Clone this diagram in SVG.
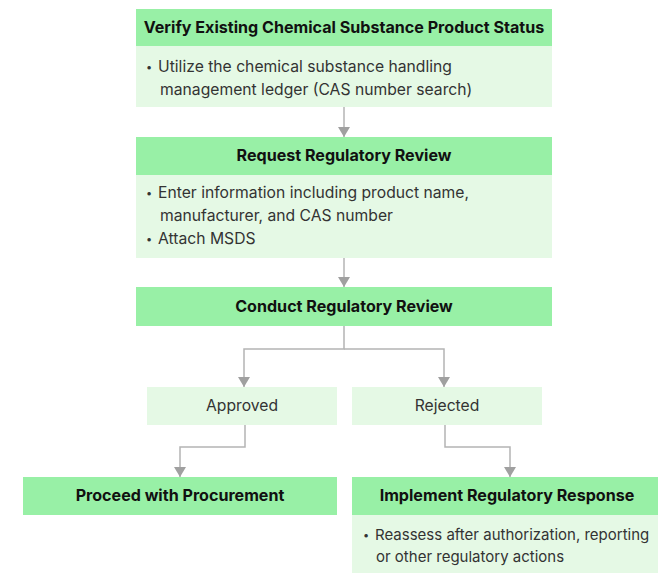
<svg xmlns="http://www.w3.org/2000/svg" width="658" height="573" viewBox="0 0 658 573">
  <style>
    .hd { fill: #98f0a6; }
    .bd { fill: #e5f9e5; }
    .ht { font-family: Inter, "Noto Sans", sans-serif; font-size: 16.1px; font-weight: 700; fill: #111; text-anchor: middle; }
    .bt { font-family: Inter, "Noto Sans", sans-serif; font-size: 15.7px; font-weight: 400; fill: #333; }
    .bs { font-family: Inter, "Noto Sans", sans-serif; font-size: 15px; font-weight: 400; fill: #333; }
    .bu { font-family: Inter, "Noto Sans", sans-serif; font-size: 11px; fill: #333; }
    .lt { font-family: Inter, "Noto Sans", sans-serif; font-size: 15.7px; font-weight: 400; fill: #333; text-anchor: middle; }
    .ln { fill: none; stroke: #b4b4b4; stroke-width: 1.5; }
  </style>
  <defs>
    <marker id="arr" viewBox="0 0 10 12" refX="10" refY="6" markerWidth="10" markerHeight="12" markerUnits="userSpaceOnUse" orient="auto">
      <path d="M0,0 L10,6 L0,12 Z" fill="#a0a0a0"/>
    </marker>
  </defs>

  <rect width="658" height="573" fill="#ffffff"/>

  <g id="connectors">
    <path class="ln" d="M344,107 V137" marker-end="url(#arr)"/>
    <path class="ln" d="M344,258 V287" marker-end="url(#arr)"/>
    <path class="ln" d="M344,326 V349 H244 V387" marker-end="url(#arr)"/>
    <path class="ln" d="M344,349 H444 V387" marker-end="url(#arr)"/>
    <path class="ln" d="M245,425 V447 H180 V477" marker-end="url(#arr)"/>
    <path class="ln" d="M445,425 V447 H510 V477" marker-end="url(#arr)"/>
  </g>

  <g id="verify-status">
    <rect class="hd" x="136" y="9" width="416" height="37"/>
    <text class="ht" x="344" y="33">Verify Existing Chemical Substance Product Status</text>
    <rect class="bd" x="136" y="46" width="416" height="61"/>
    <text class="bu" x="146" y="71">•</text>
    <text class="bt" x="158" y="72">Utilize the chemical substance handling</text>
    <text class="bt" x="160" y="95">management ledger (CAS number search)</text>
  </g>

  <g id="request-review">
    <rect class="hd" x="136" y="137" width="416" height="38"/>
    <text class="ht" x="344" y="161">Request Regulatory Review</text>
    <rect class="bd" x="136" y="175" width="416" height="83"/>
    <text class="bu" x="146" y="197">•</text>
    <text class="bt" x="158" y="198">Enter information including product name,</text>
    <text class="bt" x="160" y="221">manufacturer, and CAS number</text>
    <text class="bu" x="146" y="243">•</text>
    <text class="bt" x="158" y="244">Attach MSDS</text>
  </g>

  <g id="conduct-review">
    <rect class="hd" x="136" y="287" width="416" height="39"/>
    <text class="ht" x="344" y="312">Conduct Regulatory Review</text>
  </g>

  <g id="approved">
    <rect class="bd" x="147" y="387" width="190" height="38"/>
    <text class="lt" x="242" y="411">Approved</text>
  </g>

  <g id="rejected">
    <rect class="bd" x="352" y="387" width="190" height="38"/>
    <text class="lt" x="447" y="411">Rejected</text>
  </g>

  <g id="proceed-procurement">
    <rect class="hd" x="23" y="477" width="314" height="38"/>
    <text class="ht" x="180" y="501">Proceed with Procurement</text>
  </g>

  <g id="implement-response">
    <rect class="hd" x="352" y="477" width="306" height="38"/>
    <text class="ht" x="507" y="501">Implement Regulatory Response</text>
    <rect class="bd" x="352" y="515" width="306" height="58"/>
    <text class="bu" x="363" y="539">•</text>
    <text class="bs" x="375" y="540">Reassess after authorization, reporting</text>
    <text class="bs" x="376" y="562">or other regulatory actions</text>
  </g>
</svg>
